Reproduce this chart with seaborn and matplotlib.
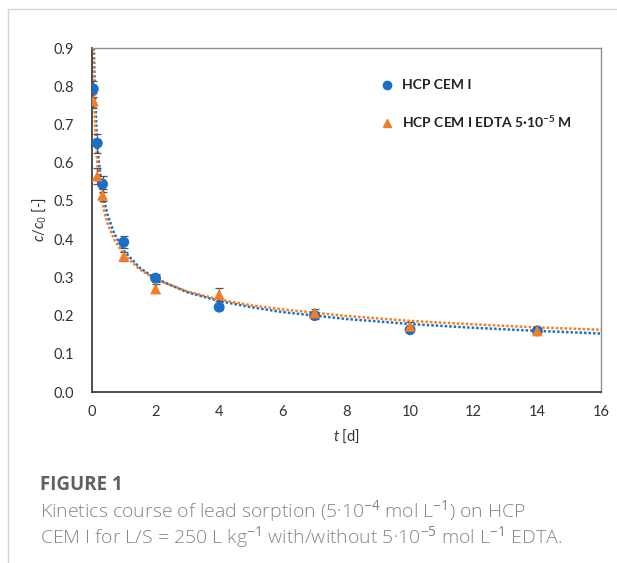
import matplotlib
matplotlib.use("Agg")
import matplotlib.pyplot as plt
from matplotlib.lines import Line2D
import seaborn as sns

# sampling times [d]
t_days = [0.042, 0.167, 0.333, 1, 2, 4, 7, 10, 14]

# measured c/c0
cem_vals = [0.793, 0.651, 0.544, 0.392, 0.298, 0.222, 0.200, 0.163, 0.160]
cem_err = [0.020, 0.025, 0.020, 0.015, 0.010, 0.008, 0.008, 0.006, 0.006]
edta_vals = [0.762, 0.565, 0.515, 0.355, 0.270, 0.255, 0.207, 0.172, 0.160]
edta_err = [0.020, 0.020, 0.015, 0.012, 0.012, 0.018, 0.010, 0.010, 0.006]

# dotted trend lines
cem_fit_t = [0.06, 0.08, 0.1, 0.15, 0.2, 0.3, 0.4, 0.5, 0.7, 1, 1.5, 2, 3, 4, 5, 6, 8, 10, 12, 14, 16]
cem_fit_c = [0.900, 0.826, 0.770, 0.676, 0.617, 0.543, 0.495, 0.461, 0.415, 0.370, 0.325,
             0.297, 0.261, 0.238, 0.222, 0.209, 0.191, 0.178, 0.168, 0.160, 0.153]
edta_fit_t = [0.04, 0.06, 0.08, 0.1, 0.15, 0.2, 0.3, 0.4, 0.5, 0.7, 1, 1.5, 2, 3, 4, 5, 6, 8, 10, 12, 14, 16]
edta_fit_c = [0.900, 0.805, 0.741, 0.696, 0.619, 0.570, 0.508, 0.468, 0.439, 0.399, 0.360, 0.321,
              0.295, 0.263, 0.242, 0.227, 0.216, 0.199, 0.186, 0.177, 0.169, 0.163]

x_ticks = [0, 2, 4, 6, 8, 10, 12, 14, 16]
y_ticks = [0.0, 0.1, 0.2, 0.3, 0.4, 0.5, 0.6, 0.7, 0.8, 0.9]

BLUE = "#1c6fc8"
ORANGE = "#f27d22"


def generate_graph():
    sns.set_theme(style="white")
    plt.rcParams["font.family"] = ["Lato", "DejaVu Sans"]
    plt.rcParams["mathtext.fontset"] = "custom"
    plt.rcParams["mathtext.rm"] = "Open Sans"
    plt.rcParams["mathtext.it"] = "Lato:italic"
    plt.rcParams["mathtext.bf"] = "Lato:bold"

    fig = plt.figure(figsize=(6.17, 5.63), dpi=100)
    ax = fig.add_axes([0.149, 0.3037, 0.825, 0.611])

    # trend lines
    sns.lineplot(x=cem_fit_t, y=cem_fit_c, ax=ax, color=BLUE, linewidth=1.8,
                 linestyle=(0, (1, 0.8)), sort=False, zorder=2)
    sns.lineplot(x=edta_fit_t, y=edta_fit_c, ax=ax, color=ORANGE, linewidth=1.8,
                 linestyle=(0, (1, 0.8)), sort=False, zorder=2)

    # error bars
    ax.errorbar(t_days, cem_vals, yerr=cem_err, fmt="none", ecolor="#555555",
                elinewidth=0.9, capsize=3, capthick=0.9, zorder=3)
    ax.errorbar(t_days, edta_vals, yerr=edta_err, fmt="none", ecolor="#555555",
                elinewidth=0.9, capsize=3, capthick=0.9, zorder=3)

    # points
    sns.scatterplot(x=t_days, y=cem_vals, ax=ax, marker="o", s=62, color=BLUE,
                    edgecolor="none", zorder=4)
    sns.scatterplot(x=t_days, y=edta_vals, ax=ax, marker="^", s=62, color=ORANGE,
                    edgecolor="none", zorder=4)

    ax.set_xlim(0, 16)
    ax.set_ylim(0, 0.9)
    ax.set_xticks(x_ticks)
    ax.set_yticks(y_ticks)
    ax.set_yticklabels([f"{v:.1f}" for v in y_ticks])
    ax.tick_params(axis="both", length=0, labelsize=10.5, colors="#333333")
    ax.tick_params(axis="x", pad=9)
    ax.tick_params(axis="y", pad=13)

    for side in ["left", "bottom"]:
        ax.spines[side].set_color("#404040")
        ax.spines[side].set_linewidth(1.3)
    for side in ["top", "right"]:
        ax.spines[side].set_color("#8f8f8f")
        ax.spines[side].set_linewidth(1.0)

    ax.set_xlabel(r"$t$ [d]", fontsize=10.5, color="#333333", labelpad=7)
    ax.set_ylabel(r"$c$/$c_0$ [-]", fontsize=10.5, color="#333333", labelpad=4)

    # legend (markers only)
    handles = [
        Line2D([], [], marker="o", linestyle="none", color=BLUE, markersize=6),
        Line2D([], [], marker="^", linestyle="none", color=ORANGE, markersize=6),
    ]
    labels = ["HCP CEM I", r"HCP CEM I EDTA 5·10$^{\mathbf{-5}}$ M"]
    leg = ax.legend(handles, labels, loc="upper left", bbox_to_anchor=(0.528, 0.945),
                    frameon=False, handletextpad=0.1, labelspacing=1.6,
                    prop={"size": 10, "weight": "bold"})
    for txt in leg.get_texts():
        txt.set_color("#222222")

    # page frame lines
    fig.add_artist(Line2D([8 / 617, 1.0], [1 - 9 / 563, 1 - 9 / 563],
                          transform=fig.transFigure, color="#d4d4d4", linewidth=1.0))
    fig.add_artist(Line2D([8 / 617, 8 / 617], [0.0, 1 - 9 / 563],
                          transform=fig.transFigure, color="#d4d4d4", linewidth=1.0))

    # caption
    cap_font = ["Open Sans", "DejaVu Sans"]
    fig.text(40 / 617, 1 - 485 / 563, "FIGURE 1", fontsize=13.5, fontweight="bold",
             family=cap_font, color="#606060", va="center", ha="left")
    fig.text(40 / 617, 1 - 511 / 563,
             "Kinetics course of lead sorption (5·10$^{−4}$ mol L$^{−1}$) on HCP",
             fontsize=14, family=cap_font, fontweight="light", color="#858585",
             va="center", ha="left")
    fig.text(40 / 617, 1 - 537 / 563,
             "CEM I for L/S = 250 L kg$^{−1}$ with/without 5·10$^{−5}$ mol L$^{−1}$ EDTA.",
             fontsize=14, family=cap_font, fontweight="light", color="#858585",
             va="center", ha="left")

    fig.savefig("out.png", dpi=100, facecolor="white")


if __name__ == "__main__":
    generate_graph()
